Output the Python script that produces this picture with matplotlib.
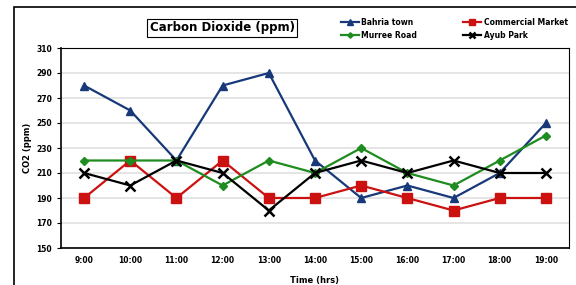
import matplotlib.pyplot as plt
from matplotlib.patches import Rectangle

hours = ['9:00', '10:00', '11:00', '12:00', '13:00', '14:00', '15:00',
         '16:00', '17:00', '18:00', '19:00']
bahria = [280, 260, 220, 280, 290, 220, 190, 200, 190, 210, 250]
commercial = [190, 220, 190, 220, 190, 190, 200, 190, 180, 190, 190]
murree = [220, 220, 220, 200, 220, 210, 230, 210, 200, 220, 240]
ayub = [210, 200, 220, 210, 180, 210, 220, 210, 220, 210, 210]

W, H = 576, 285
fig = plt.figure(figsize=(W / 100, H / 100), dpi=100)
ax = fig.add_axes([61 / W, 1 - 248 / H, (569 - 61) / W, (248 - 48) / H])

# outer frame of the chart area
fig.patches.append(Rectangle((14 / W, -0.1), 1.0, 1 - 7 / H + 0.1,
                             transform=fig.transFigure, fill=False,
                             edgecolor='black', linewidth=1.2))

x = range(len(hours))
l1, = ax.plot(x, bahria, color='#17397a', marker='^', markersize=6, linewidth=1.6, label='Bahria town')
l2, = ax.plot(x, commercial, color='#cc1111', marker='s', markersize=6.5, linewidth=1.6, label='Commercial Market')
l3, = ax.plot(x, murree, color='#1e8c1e', marker='D', markersize=4, linewidth=1.6, label='Murree Road')
l4, = ax.plot(x, ayub, color='black', marker='x', markersize=7, markeredgewidth=1.8, linewidth=1.6, label='Ayub Park')

ax.set_xlim(-0.5, len(hours) - 0.5)
ax.set_ylim(150, 310)
ax.set_yticks(range(150, 311, 20))
ax.set_xticks(list(x))
ax.set_xticklabels(hours)
ax.tick_params(labelsize=5.5, length=3, width=0.8)
ax.tick_params(axis='x', length=0, pad=6)
for lab in ax.get_xticklabels() + ax.get_yticklabels():
    lab.set_fontweight('bold')
ax.yaxis.grid(True, color='#e0e0e0', linewidth=1.2)
ax.set_axisbelow(True)
for s in ax.spines.values():
    s.set_linewidth(0.8)
ax.spines['left'].set_linewidth(1.2)
ax.spines['bottom'].set_linewidth(1.2)

ax.set_ylabel('CO2 (ppm)', fontsize=6, fontweight='bold', labelpad=3)
ax.set_xlabel('Time (hrs)', fontsize=6, fontweight='bold', labelpad=8)

fig.text(222 / W, 1 - 28 / H, 'Carbon Dioxide (ppm)', fontsize=8.5, fontweight='bold',
         ha='center', va='center',
         bbox=dict(boxstyle='square,pad=0.25', facecolor='white', edgecolor='black', linewidth=0.8))

# column-wise fill: Bahria/Murree in first column, Commercial/Ayub in second
fig.legend([l1, l3, l2, l4], ['Bahria town', 'Murree Road', 'Commercial Market', 'Ayub Park'],
           loc='center left', bbox_to_anchor=(337 / W, 1 - 29 / H), ncol=2, frameon=False,
           prop={'size': 5.5, 'weight': 'bold'}, handlelength=2.4, handletextpad=0.3,
           columnspacing=6.0, labelspacing=0.5, markerscale=0.7, borderpad=0)

fig.savefig('out.png', dpi=100)
